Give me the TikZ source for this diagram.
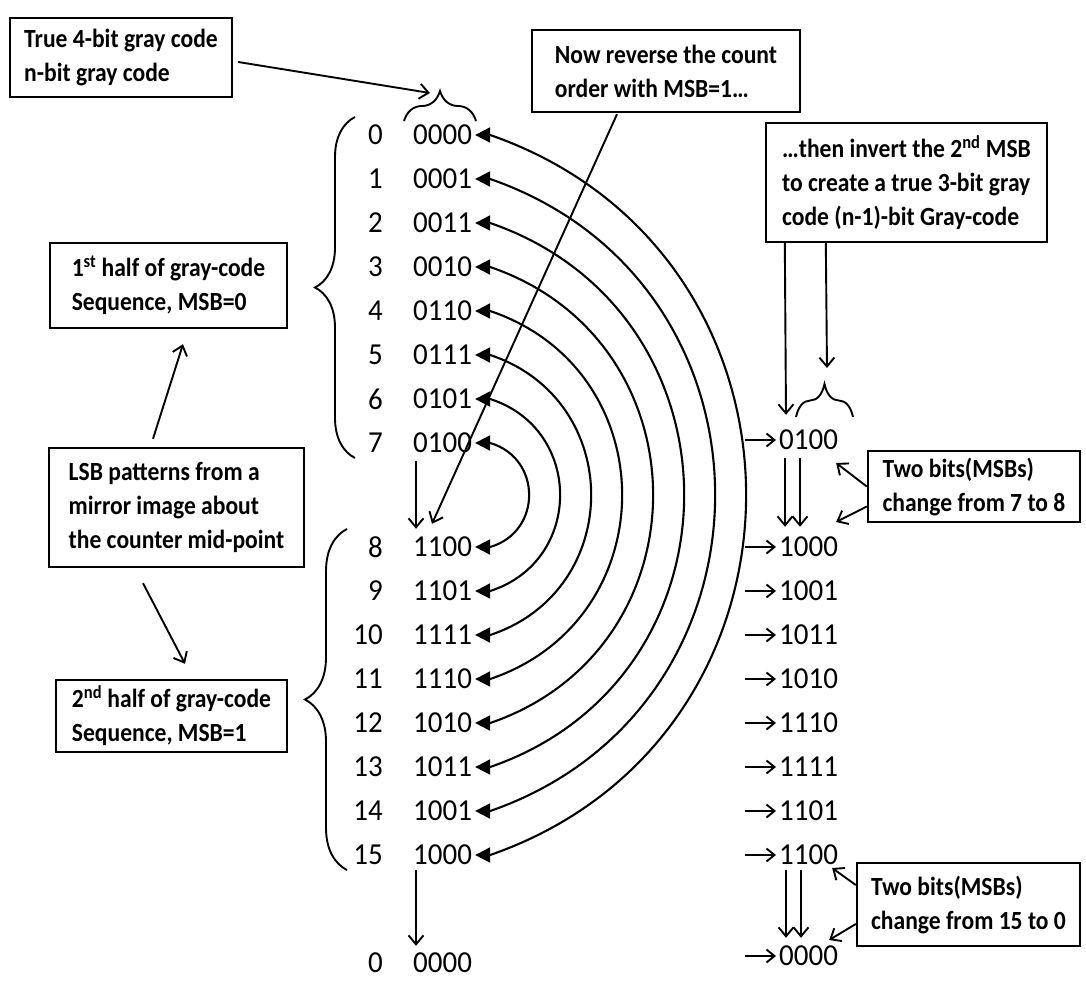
\documentclass[tikz,border=0pt]{standalone}
\usepackage{fontspec}
\setmainfont{Carlito}
\newfontfamily\boxfont{Carlito}[FakeStretch=0.9]
\newfontfamily\numfont{Carlito}[FakeStretch=0.95]
\usetikzlibrary{arrows.meta,decorations.pathreplacing,calc}
\begin{document}
\begin{tikzpicture}[x=1pt,y=-1pt,
  box/.style={draw, line width=2.4pt, align=left, inner xsep=10pt, inner ysep=0pt,
     font=\boxfont\fontsize{26.2}{34}\selectfont\bfseries},
  num/.style={inner sep=3pt, font=\numfont\fontsize{30.5}{35}\selectfont},
  openarr/.style={line width=1.9pt, -{Straight Barb[length=9pt,width=15pt]}},
  shortarr/.style={line width=1.9pt, -{Straight Barb[length=8pt,width=13pt]}},
  dbl/.style={line width=2.1pt, {Triangle[length=15pt,width=15pt]}-{Triangle[length=15pt,width=15pt]}},
  brc/.style={line width=1.9pt, decorate, decoration={brace, amplitude=#1pt}},
]
\useasboundingbox (0,0) rectangle (1086,982);

% boxes
\node[box, minimum width=222pt, minimum height=79pt] (A) at (121,57.5) {True 4-bit gray code\\n-bit gray code};
\node[box, minimum width=268pt, minimum height=82pt] (B) at (666,71) {Now reverse the count\\order with MSB=1…};
\node[box, minimum width=281pt, minimum height=119pt] (C) at (906.5,182.5) {…then invert the 2\textsuperscript{nd} MSB\\to create a true 3-bit gray\\code (n-1)-bit Gray-code};
\node[box, minimum width=237pt, minimum height=85pt] (F) at (168.5,285.5) {1\textsuperscript{st} half of gray-code\\Sequence, MSB=0};
\node[box, minimum width=255pt, minimum height=119pt] (G) at (176.5,507.5) {LSB patterns from a\\mirror image about\\the counter mid-point};
\node[box, minimum width=231pt, minimum height=72pt] (H) at (171.5,716) {2\textsuperscript{nd} half of gray-code\\Sequence, MSB=1};
\node[box, minimum width=212pt, minimum height=71pt] (Dx) at (974,486.5) {Two bits(MSBs)\\change from 7 to 8};
\node[box, minimum width=223pt, minimum height=83pt] (Ex) at (968.5,904.5) {Two bits(MSBs)\\change from 15 to 0};

% left column
\foreach \i/\c in {0/0000,1/0001,2/0011,3/0010,4/0110,5/0111,6/0101,7/0100}{
  \node[num, anchor=east] (N\i) at (386,{135+44*\i}) {\i};
  \node[num, anchor=west] (L\i) at (410,{135+44*\i}) {\c};
}
\foreach \i/\c in {8/1100,9/1101,10/1111,11/1110,12/1010,13/1011,14/1001,15/1000}{
  \node[num, anchor=east] (N\i) at (386,{547+44*(\i-8)}) {\i};
  \node[num, anchor=west] (L\i) at (410,{547+44*(\i-8)}) {\c};
}
\node[num, anchor=east] (N16) at (386,963) {0};
\node[num, anchor=west] (L16) at (410,963) {0000};

% right column
\node[num, anchor=west] (R7) at (776,440) {0100};
\foreach \i/\c in {8/1000,9/1001,10/1011,11/1010,12/1110,13/1111,14/1101,15/1100}{
  \node[num, anchor=west] (R\i) at (776,{547+44*(\i-8)}) {\c};
}
\node[num, anchor=west] (R16) at (776,956) {0000};

% arcs
\foreach \k/\lx/\ly in {0/341.3/118.6, 1/300/103.9, 2/258.7/89.1, 3/217.3/74.3, 4/176/59.5, 5/134.7/44.7, 6/93.3/29.9, 7/52/15.2}{
  \pgfmathtruncatemacro{\j}{15-\k}
  \draw[dbl] (L\k.east) -- ++(15,0) .. controls +(\lx,\ly) and +(\lx,-\ly) .. ($(L\j.east)+(15,0)$) -- (L\j.east);
}

% short arrows to right column
\foreach \i in {7,...,16}{
  \coordinate (s\i) at (745,0 |- R\i.west);
  \draw[shortarr] (s\i) -- (R\i.west);
}

% braces
\draw[brc=30] (404,121) -- (476,121);
\coordinate (bt) at (430,93);
\draw[brc=40] (355,458) -- (355,117);
\draw[brc=42] (347,870) -- (347,529);
\draw[brc=33] (796,417) -- (853,417);

% connectors
\draw[openarr] ($(A.east)+(5,4.5)$) -- (bt);
\draw[openarr] ($(B.south)+(-49,1)$) -- ($(L8.north west)+(22,-10)$);
\draw[openarr] ($(L7.south west)+(6,5)$) -- ($(L8.north west)+(6,-5)$);
\draw[openarr] ($(L15.south west)+(6,2)$) -- ($(L16.north west)+(6,-4)$);
\draw[openarr] ($(C.south west)+(20,0)$) -- ($(R7.north west)+(10,-12)$);
\draw[openarr] ($(C.south west)+(61,0)$) -- (827,368);
\draw[openarr] ($(R7.south west)+(9,5)$) -- ($(R8.north west)+(9,-7)$);
\draw[openarr] ($(R7.south west)+(24,5)$) -- ($(R8.north west)+(24,-7)$);
\draw[openarr] ($(R15.south west)+(10,2)$) -- ($(R16.north west)+(10,-5)$);
\draw[openarr] ($(R15.south west)+(25,2)$) -- ($(R16.north west)+(25,-5)$);
\draw[openarr] (Dx.west) -- ($(R7.east)+(-5,23)$);
\draw[openarr] ($(Dx.west)+(0,20)$) -- ($(R8.east)+(-5,-25)$);
\draw[openarr] ($(Ex.west)+(0,-19.5)$) -- ($(R15.east)+(-9,13)$);
\draw[openarr] ($(Ex.west)+(0,19.5)$) -- ($(R16.east)+(-12,-16)$);
\draw[openarr] ($(G.north)+(-23.5,-8)$) -- ($(F.south)+(14.5,15)$);
\draw[openarr] ($(G.south)+(-33.5,15)$) -- ($(H.north)+(13.5,-15)$);
\end{tikzpicture}
\end{document}
